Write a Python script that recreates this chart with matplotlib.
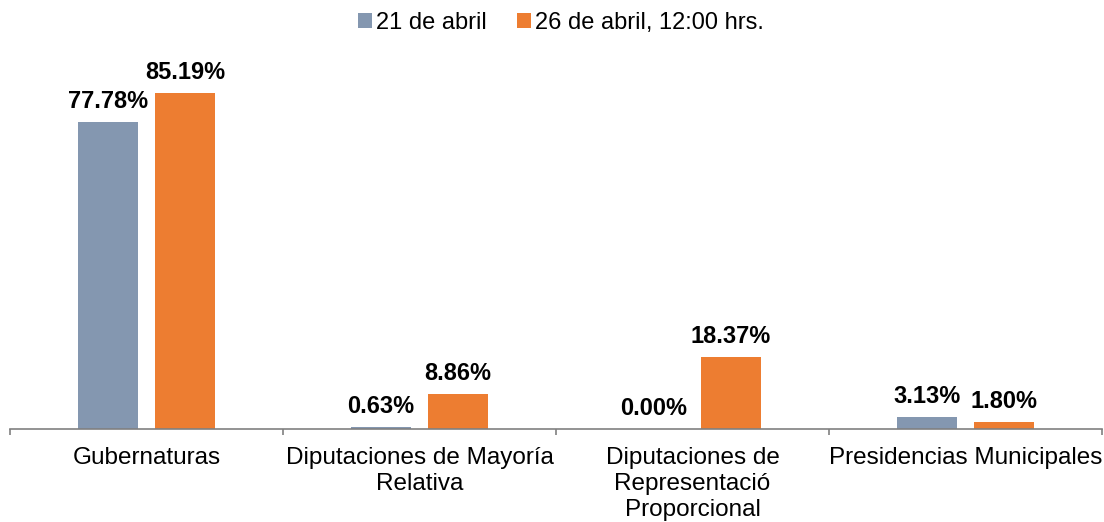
import numpy as np
import matplotlib.pyplot as plt

plt.rcParams['font.family'] = ['Liberation Sans', 'DejaVu Sans']

# datos
categorias = ['Gubernaturas', 'Diputaciones de Mayoría\nRelativa',
              'Diputaciones de\nRepresentació\nProporcional', 'Presidencias Municipales']
series = ['21 de abril', '26 de abril, 12:00 hrs.']
abril_21 = [77.78, 0.63, 0.00, 3.13]
abril_26 = [85.19, 8.86, 18.37, 1.80]
colores = ['#8497B0', '#ED7D31']

fig = plt.figure(figsize=(11.04, 5.22), dpi=100)
ax = fig.add_axes([10 / 1104, 93 / 522, 1092 / 1104, 355 / 522])

x = np.arange(len(categorias))
ancho = 0.223
desp = 0.141
for vals, off, c, nombre in [(abril_21, -desp, colores[0], series[0]),
                             (abril_26, desp, colores[1], series[1])]:
    barras = ax.bar(x + off, vals, ancho, color=c, label=nombre, zorder=2)
    for b, v in zip(barras, vals):
        ax.annotate(f'{v:.2f}%', (b.get_x() + b.get_width() / 2, v),
                    xytext=(0, 10), textcoords='offset points',
                    ha='center', va='baseline', fontsize=17, fontweight='bold')

ax.set_xlim(-0.5, len(categorias) - 0.5)
ax.set_ylim(0, 90)
ax.set_yticks([])
for s in ['top', 'right', 'left']:
    ax.spines[s].set_visible(False)
ax.spines['bottom'].set_color('#808080')
ax.spines['bottom'].set_linewidth(1.2)

# marcas entre categorías, etiquetas centradas
ax.set_xticks(np.arange(len(categorias) + 1) - 0.5)
ax.set_xticklabels([])
ax.set_xticks(x, minor=True)
ax.set_xticklabels(categorias, minor=True, fontsize=17.5, linespacing=1.22, va='top')
ax.tick_params(axis='x', which='major', length=4.5, width=1.2, color='#808080', direction='out')
ax.tick_params(axis='x', which='minor', length=0, pad=13)

fig.legend(loc='upper center', bbox_to_anchor=(0.508, 1.018), ncol=2, frameon=False,
           fontsize=17, handlelength=0.6, handleheight=0.6, handletextpad=0.15,
           columnspacing=1.3)

fig.savefig('out.png', dpi=100)
